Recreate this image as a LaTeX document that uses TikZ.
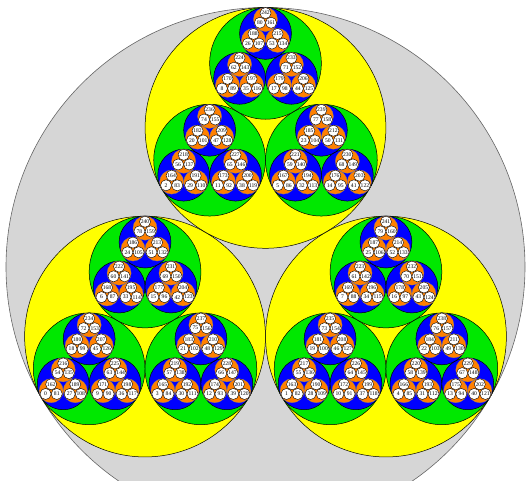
\documentclass[tikz,border=0pt]{standalone}
\usepackage{fontspec}
\setmainfont{Liberation Serif}
\definecolor{shell}{RGB}{214,214,214}
\definecolor{lvlone}{RGB}{255,255,0}
\definecolor{lvltwo}{RGB}{0,232,0}
\definecolor{lvlthree}{RGB}{0,0,255}
\definecolor{lvlfour}{RGB}{255,128,0}
\begin{document}
\begin{tikzpicture}[x=1pt,y=1pt,
 disc/.style={draw=black,line width=0.5pt},
 leaf/.style={circle,draw=black,fill=white,line width=0.4pt,inner sep=0pt,
   minimum size=11.1pt,font=\fontsize{5.6}{6}\selectfont}]
\useasboundingbox (0,0) rectangle (528,481);
\clip (0,0) rectangle (528,481);
\filldraw[shell,draw=black!60,line width=0.6pt] (265.5,214) circle (259.5);
\foreach \a in {0,1,2}{
 \pgfmathsetmacro\xa{265.5+139.1*cos(210+120*\a)}
 \pgfmathsetmacro\ya{214+139.1*sin(210+120*\a)}
 \filldraw[disc,fill=lvlone] (\xa,\ya) circle (120.4);
 \foreach \b in {0,1,2}{
  \pgfmathsetmacro\xb{\xa+64.53*cos(210+120*\b)}
  \pgfmathsetmacro\yb{\ya+64.53*sin(210+120*\b)}
  \filldraw[disc,fill=lvltwo] (\xb,\yb) circle (55.89);
  \foreach \c in {0,1,2}{
   \pgfmathsetmacro\xc{\xb+29.95*cos(210+120*\c)}
   \pgfmathsetmacro\yc{\yb+29.95*sin(210+120*\c)}
   \filldraw[disc,fill=lvlthree] (\xc,\yc) circle (25.94);
   \foreach \d in {0,1,2}{
    \pgfmathsetmacro\xd{\xc+13.90*cos(210+120*\d)}
    \pgfmathsetmacro\yd{\yc+13.90*sin(210+120*\d)}
    \filldraw[lvlfour,draw=black!50,line width=0.3pt] (\xd,\yd) circle (12.04);
    \foreach \e in {0,1,2}{
     \pgfmathtruncatemacro\num{\a+3*\b+9*\c+27*\d+81*\e}
     \node[leaf] (w\num) at ({\xd+6.45*cos(210+120*\e)},{\yd+6.45*sin(210+120*\e)}) {\num};
    }
   }
  }
 }
}
\end{tikzpicture}
\end{document}
